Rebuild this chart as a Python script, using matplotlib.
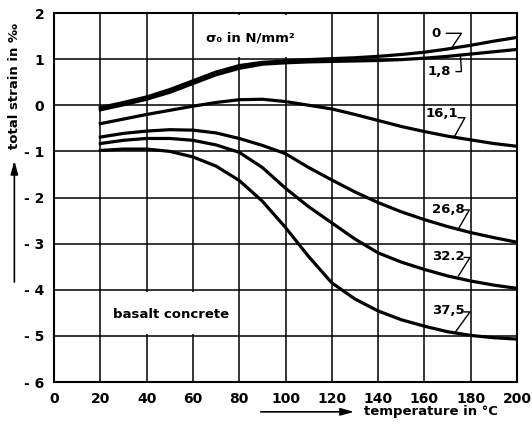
import matplotlib
matplotlib.use("Agg")
import matplotlib.pyplot as plt
from matplotlib.patches import Rectangle

temps = [20, 30, 40, 50, 60, 70, 80, 90, 100, 110, 120, 130, 140, 150, 160, 170, 180, 190, 200]
strain_0 = [-0.05, 0.06, 0.18, 0.34, 0.53, 0.72, 0.86, 0.93, 0.96, 0.99, 1.01, 1.03, 1.06, 1.10, 1.15, 1.22, 1.30, 1.39, 1.47]
strain_1_8 = [-0.10, 0.01, 0.13, 0.28, 0.47, 0.66, 0.80, 0.89, 0.92, 0.94, 0.95, 0.96, 0.97, 0.99, 1.02, 1.06, 1.11, 1.16, 1.21]
strain_16_1 = [-0.40, -0.30, -0.20, -0.11, -0.02, 0.06, 0.12, 0.13, 0.08, 0.00, -0.08, -0.20, -0.33, -0.46, -0.57, -0.67, -0.75, -0.83, -0.89]
strain_26_8 = [-0.69, -0.61, -0.56, -0.53, -0.54, -0.60, -0.72, -0.87, -1.05, -1.35, -1.62, -1.88, -2.11, -2.31, -2.48, -2.63, -2.76, -2.87, -2.97]
strain_32_2 = [-0.83, -0.76, -0.72, -0.72, -0.76, -0.86, -1.02, -1.35, -1.80, -2.20, -2.55, -2.90, -3.20, -3.40, -3.56, -3.70, -3.81, -3.90, -3.97]
strain_37_5 = [-0.98, -0.95, -0.95, -1.00, -1.12, -1.32, -1.63, -2.08, -2.65, -3.28, -3.85, -4.20, -4.46, -4.65, -4.79, -4.91, -4.99, -5.04, -5.07]

series = [strain_0, strain_1_8, strain_16_1, strain_26_8, strain_32_2, strain_37_5]
stress_labels = ["0", "1,8", "16,1", "26,8", "32.2", "37,5"]
# label anchor (x, y) and leader polyline points
label_pos = [(165, 1.56), (166.5, 0.73), (167.5, -0.18), (170.3, -2.25), (170.3, -3.27), (170.3, -4.44)]
leaders = [
    [(169.5, 1.56), (176, 1.56), (172, 1.26)],
    [(173.7, 0.73), (176, 0.73), (175.6, 1.05)],
    [(174.6, -0.27), (177.5, -0.27), (173.2, -0.66)],
    [(177.0, -2.27), (179.4, -2.27), (174.7, -2.68)],
    [(177.2, -3.30), (179.7, -3.30), (174.7, -3.70)],
    [(177.2, -4.48), (179.7, -4.48), (173.2, -4.93)],
]

x_ticks = [0, 20, 40, 60, 80, 100, 120, 140, 160, 180, 200]
y_ticks = [-6, -5, -4, -3, -2, -1, 0, 1, 2]
y_tick_labels = ["- 6", "- 5", "- 4", "- 3", "- 2", "- 1", "0", "1", "2"]

fig = plt.figure(figsize=(5.32, 4.29), dpi=100)
ax = fig.add_axes([54/532, 1-382/429, (517-54)/532, (382-13)/429])
ax.set_xlim(0, 200)
ax.set_ylim(-6, 2)
ax.set_xticks(x_ticks)
ax.set_xticklabels([str(t) for t in x_ticks], fontsize=10, fontweight="bold")
ax.set_yticks(y_ticks)
ax.set_yticklabels(y_tick_labels, fontsize=10, fontweight="bold")
ax.tick_params(length=0, pad=7)
ax.set_axisbelow(True)
ax.grid(True, color="black", lw=1.1)
for s in ax.spines.values():
    s.set_linewidth(1.5)

# white boxes behind labels
ax.add_patch(Rectangle((61, 1.04), 58, 0.92, facecolor="white", edgecolor="none", zorder=1.5))
ax.add_patch(Rectangle((21, -4.96), 58, 0.92, facecolor="white", edgecolor="none", zorder=1.5))

for ys in series:
    ax.plot(temps, ys, color="black", lw=2.3, zorder=3)

for lab, (lx, ly), pts in zip(stress_labels, label_pos, leaders):
    ax.text(lx, ly, lab, fontsize=9.5, fontweight="bold", ha="center", va="center", zorder=4)
    ax.plot([p[0] for p in pts], [p[1] for p in pts], color="black", lw=1.0, zorder=4)

ax.text(85, 1.45, "σ₀ in N/mm²", fontsize=9.5, fontweight="bold", ha="center", va="center", zorder=4)
ax.text(50.4, -4.54, "basalt concrete", fontsize=9.5, fontweight="bold", ha="center", va="center", zorder=4)

# axis labels with arrows
fig.text(0.028, 0.80, "total strain in ‰", rotation=90, fontsize=9.5, fontweight="bold", ha="center", va="center")
ax.annotate("", xy=(0.027, 0.632), xytext=(0.027, 0.336), xycoords="figure fraction",
            arrowprops=dict(arrowstyle="-|>,head_length=0.8,head_width=0.22", color="black", lw=1.2))
ax.annotate("", xy=(0.671, 0.040), xytext=(0.485, 0.040), xycoords="figure fraction",
            arrowprops=dict(arrowstyle="-|>,head_length=0.8,head_width=0.22", color="black", lw=1.2))
fig.text(0.684, 0.040, "temperature in °C", fontsize=9.5, fontweight="bold", ha="left", va="center")

fig.savefig("out.png", dpi=100)
